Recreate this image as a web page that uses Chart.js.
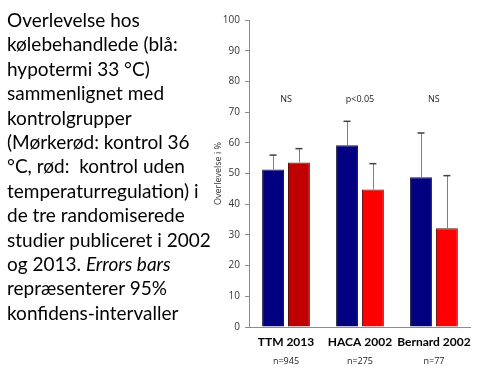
<!DOCTYPE html>
<html>
<head>
<meta charset="utf-8">
<script src="https://cdn.jsdelivr.net/npm/chart.js@4.4.1/dist/chart.umd.min.js"></script>
<style>
  html, body { margin: 0; padding: 0; background: #fff; }
  #wrap { position: relative; width: 480px; height: 376px; }
  #survivalChart { position: absolute; left: 0; top: 0; }
  #caption {
    position: absolute; left: 7px; top: 8px; width: 215px;
    font-family: Lato, "Open Sans", sans-serif; font-size: 19px; line-height: 24.4px;
    color: #000;
  }
</style>
</head>
<body>
<div id="wrap">
  <canvas id="survivalChart" width="480" height="376"></canvas>
  <div id="caption">Overlevelse hos<br>kølebehandlede (blå:<br>hypotermi 33 °C)<br>sammenlignet med<br>kontrolgrupper<br>(Mørkerød: kontrol 36<br>°C, rød:&nbsp; kontrol uden<br>temperaturregulation) i<br>de tre randomiserede<br>studier publiceret i 2002<br>og 2013. <i>Errors bars</i><br>repræsenterer 95%<br>konfidens-intervaller</div>
</div>
<script>
var studies = ['TTM 2013', 'HACA 2002', 'Bernard 2002'];
var sampleSizes = ['n=945', 'n=275', 'n=77'];
var significance = ['NS', 'p<0.05', 'NS'];

// survival in %, hypothermia 33 °C vs control
var hypothermia = [51.3, 59.2, 48.8];
var hypothermiaCiUpper = [56, 67, 63.2];
var control = [53.6, 44.8, 32.2];
var controlCiUpper = [58.1, 53.2, 49.3];

var yTicks = [0, 10, 20, 30, 40, 50, 60, 70, 80, 90, 100];
var significanceLevel = 74;

var controlColors = ['#C00000', '#FF0000', '#FF0000'];

var errorBars = {
    id: 'errorBars',
    afterDatasetsDraw: function(chart) {
        var ctx = chart.ctx;
        var y = chart.scales.y;
        var uppers = [hypothermiaCiUpper, controlCiUpper];
        ctx.save();
        uppers.forEach(function(up, di) {
            chart.getDatasetMeta(di).data.forEach(function(bar, i) {
                var top = y.getPixelForValue(up[i]);
                ctx.strokeStyle = '#808080';
                ctx.lineWidth = 1;
                ctx.beginPath();
                ctx.moveTo(Math.round(bar.x) + 0.5, bar.y);
                ctx.lineTo(Math.round(bar.x) + 0.5, top);
                ctx.stroke();
                ctx.strokeStyle = '#404040';
                ctx.lineWidth = 1.5;
                ctx.beginPath();
                ctx.moveTo(bar.x - 3.5, top);
                ctx.lineTo(bar.x + 3.5, top);
                ctx.stroke();
            });
        });
        // significance labels over each study
        ctx.fillStyle = '#222';
        ctx.font = '9px "Open Sans", sans-serif';
        ctx.textAlign = 'center';
        ctx.textBaseline = 'middle';
        var x = chart.scales.x;
        significance.forEach(function(s, i) {
            ctx.fillText(s, x.getPixelForValue(i), y.getPixelForValue(significanceLevel));
        });
        ctx.restore();
    }
};

var ctx = document.getElementById('survivalChart').getContext('2d');
var chart = new Chart(ctx, {
    type: 'bar',
    data: {
        labels: studies,
        datasets: [{
            label: 'Hypotermi 33 °C',
            data: hypothermia,
            backgroundColor: '#000080',
            borderColor: '#1a1a40',
            borderWidth: 1,
            barPercentage: 0.846,
            categoryPercentage: 0.70
        }, {
            label: 'Kontrol',
            data: control,
            backgroundColor: controlColors,
            borderColor: '#5a1010',
            borderWidth: 1,
            barPercentage: 0.846,
            categoryPercentage: 0.70
        }]
    },
    options: {
        responsive: false,
        animation: false,
        layout: { padding: { left: 206, right: 8, top: 20, bottom: 8 } },
        plugins: {
            legend: { display: false },
            tooltip: { enabled: false }
        },
        scales: {
            x: {
                weight: 0,
                grid: { display: false, drawTicks: false },
                border: { color: '#8c8c8c' },
                afterFit: function(scale) { scale.height = 23; },
                ticks: {
                    color: '#000',
                    padding: 8,
                    maxRotation: 0,
                    autoSkip: false,
                    font: { family: 'Lato, sans-serif', size: 12, weight: 'bold' }
                }
            },
            x2: {
                weight: 1,
                position: 'bottom',
                labels: sampleSizes,
                grid: { display: false, drawTicks: false },
                border: { display: false },
                afterFit: function(scale) { scale.height = 18; },
                ticks: {
                    color: '#222',
                    padding: 6,
                    maxRotation: 0,
                    autoSkip: false,
                    font: { family: '"Open Sans", sans-serif', size: 9 }
                }
            },
            y: {
                min: 0,
                max: 100,
                afterBuildTicks: function(scale) {
                    scale.ticks = yTicks.map(function(v) { return { value: v }; });
                },
                afterFit: function(scale) { scale.width = 43; },
                grid: { drawOnChartArea: false, tickLength: 4, color: '#8c8c8c' },
                border: { color: '#8c8c8c' },
                ticks: {
                    color: '#333',
                    padding: 5,
                    font: { family: '"Open Sans", sans-serif', size: 10 }
                },
                title: {
                    display: true,
                    text: 'Overlevelse i %',
                    color: '#333',
                    padding: { top: 7, bottom: 0 },
                    font: { family: '"Open Sans", sans-serif', size: 9 }
                }
            }
        }
    },
    plugins: [errorBars]
});
</script>
</body>
</html>
